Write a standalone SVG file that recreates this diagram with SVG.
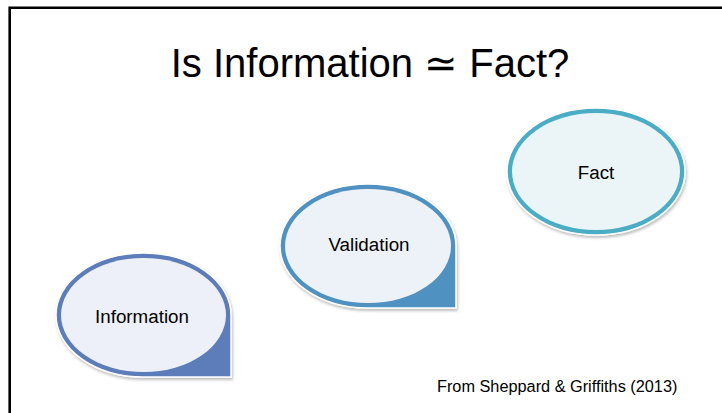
<svg xmlns="http://www.w3.org/2000/svg" width="722" height="413" viewBox="0 0 722 413">
  <defs>
    <filter id="sh" x="-10%" y="-10%" width="125%" height="130%">
      <feDropShadow dx="1" dy="2" stdDeviation="1.5" flood-color="#000" flood-opacity="0.28"/>
    </filter>
  </defs>
  <style>
    .t { font-family: "Liberation Sans", Arial, sans-serif; fill: #000; }
    .title { font-size: 40px; }
    .lbl { font-size: 18.8px; text-anchor: middle; }
    .note { font-size: 16.3px; }
    .outer { stroke: #ffffff; stroke-width: 1.5; filter: url(#sh); }
  </style>
  <rect width="722" height="413" fill="#ffffff"/>
  <path d="M9.7,413 V7.8 H722" fill="none" stroke="#000" stroke-width="2.6"/>

  <g id="title">
    <text class="t title" x="370" y="77" text-anchor="middle">Is Information ≃ Fact?</text>
  </g>

  <g id="information">
    <path class="outer" fill="#5B7BBA" d="M56,315 A87.5,62 0 0 1 143.5,253 A87.5,62 0 0 1 231,315 L231,377 L143.5,377 A87.5,62 0 0 1 56,315 Z"/>
    <ellipse cx="143.5" cy="315" rx="82.5" ry="57" fill="#EDF0F8"/>
    <text class="t lbl" x="142" y="323">Information</text>
  </g>

  <g id="validation">
    <path class="outer" fill="#5091C0" d="M280,246 A88,62 0 0 1 368,184 A88,62 0 0 1 456,246 L456,308 L368,308 A88,62 0 0 1 280,246 Z"/>
    <ellipse cx="368" cy="246" rx="83" ry="57" fill="#EDF2F9"/>
    <text class="t lbl" x="369" y="251">Validation</text>
  </g>

  <g id="fact">
    <ellipse class="outer" cx="596" cy="171.5" rx="89" ry="63.5" fill="#4BACC6"/>
    <ellipse cx="596" cy="171.5" rx="84" ry="58.5" fill="#EBF5F8"/>
    <text class="t lbl" x="596" y="179">Fact</text>
  </g>

  <g id="source">
    <text class="t note" x="437" y="391.5">From Sheppard &amp; Griffiths (2013)</text>
  </g>
</svg>
